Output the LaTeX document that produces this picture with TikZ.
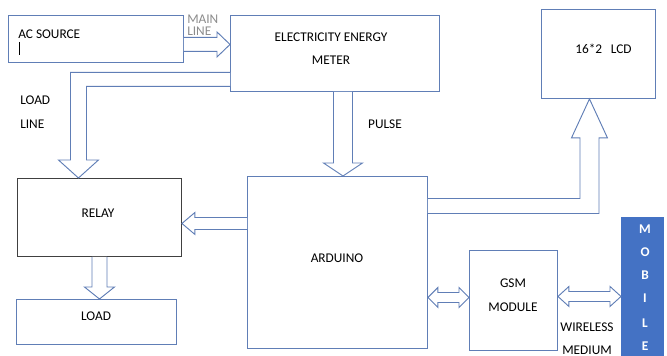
\documentclass[tikz,border=0pt]{standalone}
\usepackage{fontspec}
\setmainfont{Carlito}
\usepackage{tikz}
\usetikzlibrary{positioning, calc}
\definecolor{linhaazul}{RGB}{96,126,182}
\definecolor{cinzaesc}{RGB}{64,64,64}
\definecolor{cinzatxt}{RGB}{140,140,140}
\definecolor{mobazul}{RGB}{68,114,196}

\begin{document}
\begin{tikzpicture}[x=0.75pt,y=-0.75pt,
    caixa/.style={draw=linhaazul,line width=0.7pt,inner sep=0pt,anchor=north west},
    seta/.style={draw=linhaazul,line width=0.7pt,fill=white,line join=miter},
    txt/.style={font=\fontsize{10}{12}\selectfont,inner sep=0pt}]
  \useasboundingbox (0,0) rectangle (667,356);

  % ---------- caixas ----------
  \node[caixa,minimum width=175*0.75pt,minimum height=47*0.75pt] (ac) at (8,15) {};
  \node[caixa,minimum width=209*0.75pt,minimum height=76*0.75pt] (meter) at (230,15) {};
  \node[caixa,minimum width=114*0.75pt,minimum height=89*0.75pt] (lcd) at (541,9) {};
  \node[caixa,draw=cinzaesc,minimum width=164*0.75pt,minimum height=78*0.75pt] (relay) at (17,178) {};
  \node[caixa,minimum width=180*0.75pt,minimum height=172*0.75pt] (arduino) at (247,176) {};
  \node[caixa,minimum width=160*0.75pt,minimum height=45*0.75pt] (load) at (16,299) {};
  \node[caixa,minimum width=88*0.75pt,minimum height=100*0.75pt] (gsm) at (469,250) {};
  \node[caixa,draw=none,fill=mobazul,minimum width=43*0.75pt,minimum height=150*0.75pt] (mobile) at (621,217) {};

  % ---------- textos ----------
  \node[txt,anchor=west] (tac) at (18,34) {AC SOURCE};
  \draw[line width=0.6pt] (19,42) -- (19,55);
  \node[txt] (tmeter1) at (331,37) {ELECTRICITY ENERGY};
  \node[txt] (tmeter2) at (331,60) {METER};
  \node[txt] (tlcd) at (603.5,49) {16*2\hspace{0.65em}LCD};
  \node[txt] (trelay) at (98,213) {RELAY};
  \node[txt] (tarduino) at (337,258) {ARDUINO};
  \node[txt] (tload) at (96,316) {LOAD};
  \node[txt] (tgsm1) at (513,283) {GSM};
  \node[txt] (tgsm2) at (513,307) {MODULE};
  \foreach \l/\y in {M/229, O/252, B/275, I/298, L/323, E/346}
    \node[txt,text=white,font=\fontsize{10}{12}\selectfont\bfseries] (mob\l) at (645,\y) {\l};

  % ---------- setas ----------
  % linha principal
  \coordinate (ml1) at ($(ac.east)+(0,5.5)$);
  \coordinate (ml2) at (meter.west |- ml1);
  \draw[seta] ($(ml1)+(0,-7)$) -- ($(ml2)+(-13,-7)$) -- ($(ml2)+(-13,-12.5)$) -- (ml2)
    -- ($(ml2)+(-13,12.5)$) -- ($(ml2)+(-13,7)$) -- ($(ml1)+(0,7)$);
  \node[txt,text=cinzatxt,anchor=west] (tmain1) at (187,19) {MAIN};
  \node[txt,text=cinzatxt,anchor=west] (tmain2) at (187,31) {LINE};

  % linha de carga
  \coordinate (ll) at ($(relay.north)+(-21,0)$);
  \draw[seta] ($(meter.west)+(0,19)$) -| ($(ll)+(-8,-18)$) -- ++(-12,0) -- (ll)
    -- ++(20,-18) -- ++(-12,0) |- ($(meter.west)+(0,33)$);
  \node[txt,anchor=west] (tll1) at (20,100) {LOAD};
  \node[txt,anchor=west] (tll2) at (20,124) {LINE};

  % pulso
  \coordinate (pu1) at ($(meter.south)+(8,0)$);
  \coordinate (pu2) at (pu1 |- arduino.north);
  \draw[seta] ($(pu1)+(-9.5,0)$) -- ($(pu2)+(-9.5,-13)$) -- ($(pu2)+(-19.5,-13)$) -- (pu2)
    -- ($(pu2)+(19.5,-13)$) -- ($(pu2)+(9.5,-13)$) -- ($(pu1)+(9.5,0)$);
  \node[txt] (tpulse) at (385,124) {PULSE};

  % arduino -> rele
  \coordinate (ar2) at ($(relay.east)+(0,6)$);
  \coordinate (ar1) at (arduino.west |- ar2);
  \draw[seta] ($(ar1)+(0,-6)$) -- ($(ar2)+(13,-6)$) -- ($(ar2)+(13,-11)$) -- (ar2)
    -- ($(ar2)+(13,11)$) -- ($(ar2)+(13,6)$) -- ($(ar1)+(0,6)$);

  % rele -> carga
  \coordinate (rl1) at (relay.south);
  \coordinate (rl2) at (rl1 |- load.north);
  \draw[seta] ($(rl1)+(-7.5,0)$) -- ($(rl2)+(-7.5,-12)$) -- ($(rl2)+(-15,-12)$) -- (rl2)
    -- ($(rl2)+(15,-12)$) -- ($(rl2)+(7.5,-12)$) -- ($(rl1)+(7.5,0)$);

  % arduino -> lcd
  \coordinate (lc) at ($(lcd.south)+(-9,0)$);
  \draw[seta] ($(arduino.east)+(0,-64)$) -| ($(lc)+(-9.5,39)$) -- ++(-8.5,0) -- (lc)
    -- ++(18,39) -- ++(-8.5,0) |- ($(arduino.east)+(0,-49)$);

  % arduino <-> gsm
  \coordinate (ag1) at ($(arduino.east)+(0,35)$);
  \coordinate (ag2) at (gsm.west |- ag1);
  \draw[seta] (ag1) -- ++(10,-10) -- ++(0,5) -- ($(ag2)+(-10,-5)$) -- ++(0,-5) -- (ag2)
    -- ++(-10,10) -- ++(0,-5) -- ($(ag1)+(10,5)$) -- ++(0,5) -- cycle;

  % gsm <-> celular
  \coordinate (gm1) at ($(gsm.east)+(0,-4)$);
  \coordinate (gm2) at (mobile.west |- gm1);
  \draw[seta] (gm1) -- ++(11,-10) -- ++(0,5) -- ($(gm2)+(-11,-5)$) -- ++(0,-5) -- (gm2)
    -- ++(-11,10) -- ++(0,-5) -- ($(gm1)+(11,5)$) -- ++(0,5) -- cycle;
  \node[txt] (twire) at (587,327) {WIRELESS};
  \node[txt] (tmed) at (587,350) {MEDIUM};

\end{tikzpicture}
\end{document}
